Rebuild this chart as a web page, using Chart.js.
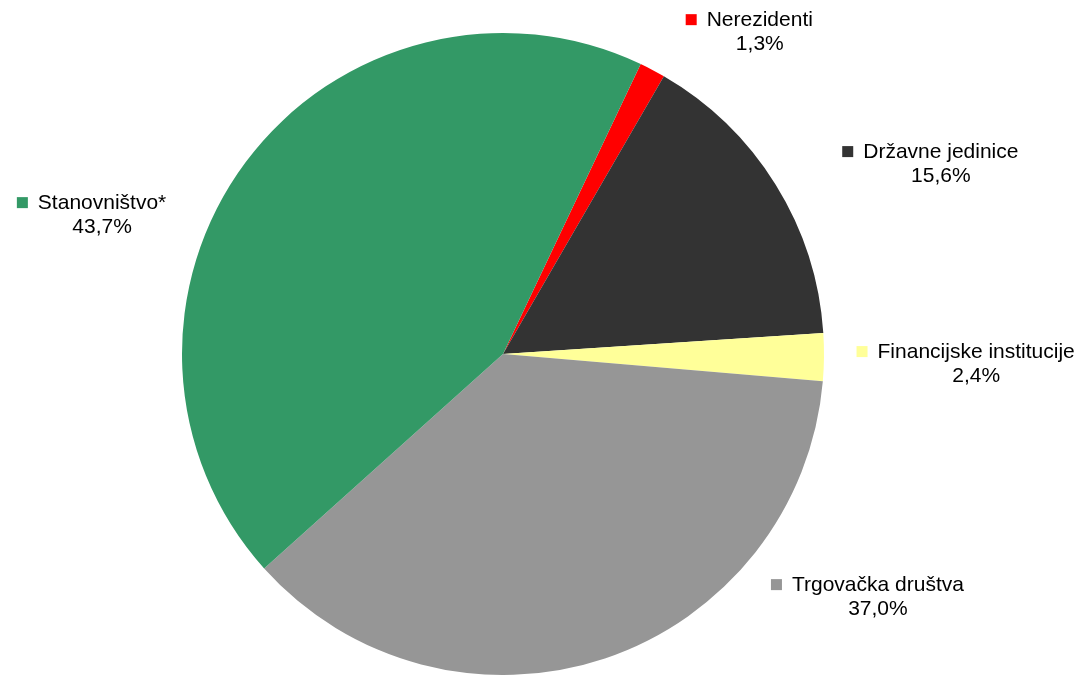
<!DOCTYPE html>
<html>
<head>
<meta charset="utf-8">
<script src="https://cdn.jsdelivr.net/npm/chart.js@4/dist/chart.umd.min.js"></script>
<style>
  html, body { margin: 0; padding: 0; background: #fff; }
  #wrap { width: 1081px; height: 675px; }
</style>
</head>
<body>
<div id="wrap"><canvas id="pieChart"></canvas></div>
<script>
// data
const categories = ['Nerezidenti', 'Državne jedinice', 'Financijske institucije', 'Trgovačka društva', 'Stanovništvo*'];
const shares = [1.3, 15.6, 2.4, 37.0, 43.7];
const sliceColors = ['#ff0000', '#333333', '#ffff99', '#969696', '#339966'];

// label placement, in units of the pie radius from its centre
const labelOffsets = [[0.80, -1.04], [1.364, -0.629], [1.474, -0.006], [1.168, 0.72], [-1.249, -0.47]];

const fmt = v => v.toFixed(1).replace('.', ',') + '%';

const outsideLabels = {
    id: 'outsideLabels',
    afterDatasetsDraw(chart) {
        const ctx = chart.ctx;
        const arcs = chart.getDatasetMeta(0).data;
        const cx = arcs[0].x, cy = arcs[0].y, r = arcs[0].outerRadius;
        ctx.save();
        ctx.font = '21px "Liberation Sans", Arial, sans-serif';
        ctx.textBaseline = 'middle';
        ctx.textAlign = 'center';
        categories.forEach((name, i) => {
            const x = cx + labelOffsets[i][0] * r;
            const y = cy + labelOffsets[i][1] * r;
            const w = ctx.measureText(name).width;
            ctx.fillStyle = sliceColors[i];
            ctx.fillRect(x - w / 2 - 21, y - 6, 11, 11);
            ctx.fillStyle = '#000';
            ctx.fillText(name, x, y);
            ctx.fillText(fmt(shares[i]), x, y + 24);
        });
        ctx.restore();
    }
};

new Chart(document.getElementById('pieChart'), {
    type: 'pie',
    data: {
        labels: categories,
        datasets: [{
            data: shares,
            backgroundColor: sliceColors,
            borderWidth: 0
        }]
    },
    options: {
        responsive: true,
        maintainAspectRatio: false,
        animation: false,
        rotation: 25.4,
        layout: { padding: { top: 33, bottom: 0, left: 0, right: 75 } },
        plugins: {
            legend: { display: false },
            tooltip: { enabled: false }
        }
    },
    plugins: [outsideLabels]
});
</script>
</body>
</html>
